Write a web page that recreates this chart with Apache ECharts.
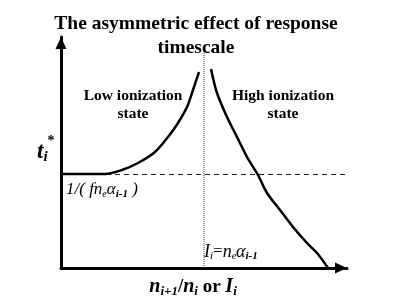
<!DOCTYPE html>
<html><head><meta charset="utf-8">
<script src="https://cdn.jsdelivr.net/npm/echarts@6/dist/echarts.min.js"></script>
<style>html,body{margin:0;padding:0;background:#fff}#c{width:397px;height:297px}</style>
</head><body><div id="c"></div>
<script>
// Schematic data (arbitrary units): x = n_{i+1}/n_i or I_i, y = t_i*
const lowStateX = [0, 44, 61, 77, 94, 107, 117, 126, 131, 138];
const lowStateY = [94, 94, 98, 105, 116, 131, 145, 161, 175, 196];
const highStateX = [150, 156, 166, 176, 186, 197, 206, 219, 232, 246, 256, 267];
const highStateY = [199, 175, 151, 131, 111, 93, 75, 58, 41, 25, 15, 0];
const equilibriumY = 93.5;      // 1/(f n_e alpha_{i-1})
const equilibriumXRange = [0, 286];
const criticalX = 143;          // I_i = n_e alpha_{i-1}
const criticalYRange = [0, 215];
const xMax = 286, yMax = 231;

const zip = (xs, ys) => xs.map((x, i) => [x, ys[i]]);
const FONT = '"Liberation Serif", "Times New Roman", serif';
const ctx = document.createElement('canvas').getContext('2d');
function run(x0, yc, parts, align) {
  const fonts = parts.map(p => `${p[3]} ${p[2]} ${p[1]}px ${FONT}`);
  const widths = parts.map((p, i) => { ctx.font = fonts[i]; return ctx.measureText(p[0]).width; });
  const total = widths.reduce((a, b) => a + b, 0);
  let x = align === 'center' ? x0 - total / 2 : x0;
  return parts.map((p, i) => {
    const el = {
      type: 'text', x: x, y: yc + p[4], z: 10,
      style: {
        text: p[0], fontSize: p[1], fontWeight: p[2], fontStyle: p[3], fontFamily: FONT,
        fill: '#000', align: 'left', verticalAlign: 'middle',
        textAlign: 'left', textVerticalAlign: 'middle'
      }
    };
    x += widths[i];
    return el;
  });
}

const texts = [].concat(
  run(37, 152, [['t', 23, 'bold', 'italic', 0], ['i', 15, 'bold', 'italic', 5], ['*', 14, 'bold', 'normal', -11]]),
  run(66, 190, [['1/( ', 17, 'normal', 'italic', 0], ['fn', 17, 'normal', 'italic', 0], ['e', 10, 'normal', 'italic', 4],
                ['α', 17, 'normal', 'italic', 0], ['i-1', 11, 'bold', 'italic', 4], [' )', 17, 'normal', 'italic', 0]]),
  run(204, 252, [['I', 18, 'normal', 'italic', 0], ['i', 11, 'normal', 'italic', 4], ['=', 17, 'normal', 'normal', 0],
                 ['n', 18, 'normal', 'italic', 0], ['e', 10, 'normal', 'italic', 4], ['α', 18, 'normal', 'italic', 0],
                 ['i-1', 11, 'bold', 'italic', 4]]),
  run(193, 287, [['n', 20, 'bold', 'italic', 0], ['i+1', 13, 'bold', 'italic', 5], ['/', 19, 'bold', 'normal', 0],
                 ['n', 20, 'bold', 'italic', 0], ['i', 13, 'bold', 'italic', 5], [' or ', 19, 'bold', 'normal', 0],
                 ['I', 20, 'bold', 'italic', 0], ['i', 13, 'bold', 'italic', 5]], 'center')
);
texts.push({
  type: 'text', x: 133, y: 87, z: 10,
  style: { text: 'Low ionization\nstate', fontSize: 15.5, fontWeight: 'bold', fontFamily: FONT, lineHeight: 18,
           fill: '#000', align: 'center', textAlign: 'center' }
});
texts.push({
  type: 'text', x: 283, y: 87, z: 10,
  style: { text: 'High ionization\nstate', fontSize: 15.5, fontWeight: 'bold', fontFamily: FONT, lineHeight: 18,
           fill: '#000', align: 'center', textAlign: 'center' }
});

const axisCommon = {
  type: 'value', splitLine: { show: false }, axisTick: { show: false }, axisLabel: { show: false },
  axisLine: { show: true, lineStyle: { color: '#000', width: 3 }, symbol: ['none', 'triangle'],
              symbolSize: [11, 12], symbolOffset: [0, -6] }
};

const chart = echarts.init(document.getElementById('c'));
chart.setOption({
  animation: false,
  backgroundColor: '#fff',
  title: {
    text: 'The asymmetric effect of response\ntimescale', left: 191, top: 7, textAlign: 'center',
    textStyle: { fontFamily: FONT, fontWeight: 'bold', fontSize: 19.5, lineHeight: 24, color: '#000' }
  },
  grid: { left: 61, top: 37, width: 286, height: 231 },
  xAxis: Object.assign({}, axisCommon, { min: 0, max: xMax }),
  yAxis: Object.assign({}, axisCommon, { min: 0, max: yMax }),
  series: [
    { type: 'line', data: [[equilibriumXRange[0], equilibriumY], [equilibriumXRange[1], equilibriumY]], symbol: 'none',
      lineStyle: { color: '#222', width: 1, type: [5, 4] }, z: 2 },
    { type: 'line', data: [[criticalX, criticalYRange[0]], [criticalX, criticalYRange[1]]], symbol: 'none',
      lineStyle: { color: '#333', width: 1, type: 'dotted' }, z: 2 },
    { type: 'line', data: zip(lowStateX, lowStateY), smooth: 0.3, symbol: 'none',
      lineStyle: { color: '#000', width: 2.5 }, z: 3 },
    { type: 'line', data: zip(highStateX, highStateY), smooth: 0.3, symbol: 'none',
      lineStyle: { color: '#000', width: 2.5 }, z: 3 }
  ],
  graphic: texts
});
</script></body></html>
